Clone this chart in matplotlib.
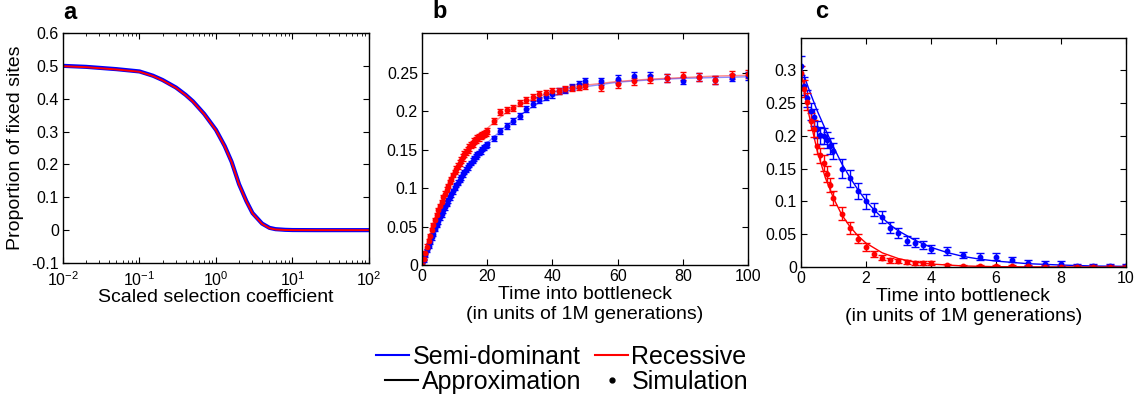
import math
import matplotlib
matplotlib.use('Agg')
import matplotlib.pyplot as plt
from matplotlib.lines import Line2D
from matplotlib.ticker import FixedLocator, FuncFormatter, LogLocator, NullFormatter

plt.rcParams['font.family'] = ['Liberation Sans', 'DejaVu Sans']
plt.rcParams['mathtext.fontset'] = 'custom'
plt.rcParams['mathtext.rm'] = 'Liberation Sans'
plt.rcParams['mathtext.it'] = 'Liberation Sans:italic'
plt.rcParams['mathtext.bf'] = 'Liberation Sans:bold'

BLUE = '#0000ff'
RED = '#ff0000'

# ---------------- Panel a ----------------
a_s = [0.01, 0.02, 0.05, 0.1, 0.15, 0.2, 0.3, 0.4, 0.5, 0.7, 1.0, 1.3, 1.6, 2.0,
       2.5, 3.0, 4.0, 5.0, 6.0, 8.0, 10, 20, 50, 100]
a_semi = [0.500, 0.497, 0.490, 0.483, 0.470, 0.457, 0.434, 0.412, 0.392, 0.354,
          0.305, 0.256, 0.208, 0.140, 0.088, 0.052, 0.020, 0.007, 0.003, 0.001,
          0.0003, 0.0, 0.0, 0.0]
a_rec = [0.499, 0.496, 0.489, 0.482, 0.469, 0.456, 0.433, 0.411, 0.391, 0.353,
         0.304, 0.255, 0.207, 0.139, 0.087, 0.051, 0.019, 0.006, 0.002, 0.0005,
         0.0001, 0.0, 0.0, 0.0]

# ---------------- Panel b ----------------
b_t = [0, 0.5, 1, 1.5, 2, 2.5, 3, 3.5, 4, 4.5, 5, 5.5, 6, 6.5, 7, 7.5, 8, 8.5, 9, 9.5,
       10, 10.5, 11, 11.5, 12, 12.5, 13, 13.5, 14, 14.5, 15, 15.5, 16, 16.5, 17, 17.5,
       18, 18.5, 19, 19.5, 20,
       22, 24, 26, 28, 30, 32, 34, 36, 38, 40, 42, 44, 46, 48, 50,
       55, 60, 65, 70, 75, 80, 85, 90, 95, 100]
b_semi = [0.000, 0.006, 0.013, 0.019, 0.025, 0.030, 0.036, 0.041, 0.047, 0.052,
          0.057, 0.062, 0.066, 0.071, 0.075, 0.080, 0.084, 0.088, 0.092, 0.096,
          0.100, 0.104, 0.107, 0.111, 0.114, 0.118, 0.121, 0.124, 0.127, 0.130,
          0.133, 0.136, 0.139, 0.141, 0.144, 0.146, 0.148, 0.151, 0.153, 0.155,
          0.157,
          0.165, 0.174, 0.181, 0.188, 0.194, 0.203, 0.210, 0.215, 0.219, 0.222,
          0.226, 0.228, 0.232, 0.235, 0.239,
          0.239, 0.242, 0.246, 0.246, 0.243, 0.240, 0.245, 0.241, 0.244, 0.246]
b_rec = [0.000, 0.008, 0.016, 0.024, 0.031, 0.038, 0.045, 0.052, 0.058, 0.065,
         0.071, 0.077, 0.082, 0.088, 0.093, 0.098, 0.103, 0.108, 0.112, 0.117,
         0.121, 0.125, 0.129, 0.133, 0.137, 0.140, 0.144, 0.147, 0.150, 0.153,
         0.156, 0.158, 0.161, 0.163, 0.165, 0.166, 0.168, 0.169, 0.171, 0.172,
         0.174,
         0.187, 0.199, 0.202, 0.204, 0.211, 0.215, 0.219, 0.222, 0.224, 0.226,
         0.227, 0.229, 0.230, 0.232, 0.233,
         0.232, 0.236, 0.239, 0.242, 0.243, 0.246, 0.245, 0.241, 0.247, 0.249]
b_semi_err = [0.002, 0.002, 0.002, 0.002, 0.003, 0.003, 0.003, 0.003, 0.003, 0.003,
              0.003, 0.003, 0.003, 0.003, 0.003, 0.003, 0.003, 0.003, 0.003, 0.003,
              0.003, 0.003, 0.003, 0.003, 0.003, 0.003, 0.003, 0.003, 0.003, 0.003,
              0.003, 0.003, 0.003, 0.003, 0.003, 0.003, 0.003, 0.003, 0.003, 0.003,
              0.003,
              0.003, 0.004, 0.004, 0.004, 0.004, 0.004, 0.004, 0.004, 0.004, 0.004,
              0.004, 0.004, 0.004, 0.004, 0.004,
              0.005, 0.005, 0.005, 0.005, 0.005, 0.005, 0.005, 0.005, 0.005, 0.005]
b_rec_err = [0.002, 0.002, 0.002, 0.003, 0.003, 0.003, 0.003, 0.003, 0.003, 0.003,
             0.003, 0.003, 0.003, 0.003, 0.003, 0.003, 0.003, 0.003, 0.003, 0.003,
             0.003, 0.004, 0.004, 0.004, 0.004, 0.004, 0.004, 0.004, 0.004, 0.004,
             0.004, 0.004, 0.004, 0.004, 0.004, 0.004, 0.004, 0.004, 0.004, 0.004,
             0.004,
             0.004, 0.004, 0.004, 0.004, 0.004, 0.004, 0.004, 0.004, 0.004, 0.004,
             0.004, 0.004, 0.004, 0.004, 0.004,
             0.005, 0.005, 0.005, 0.005, 0.005, 0.005, 0.005, 0.005, 0.005, 0.005]
b_line_t = [0, 2, 4, 6, 8, 10, 12, 14, 16, 18, 20, 25, 30, 35, 40, 45, 50, 60, 70, 80, 90, 100]
b_semi_line = [0.0, 0.024, 0.046, 0.066, 0.085, 0.101, 0.116, 0.129, 0.140, 0.150,
               0.159, 0.178, 0.195, 0.209, 0.219, 0.227, 0.232, 0.238, 0.241, 0.243,
               0.244, 0.245]
b_rec_line = [0.0, 0.031, 0.058, 0.082, 0.103, 0.121, 0.137, 0.150, 0.161, 0.170,
              0.178, 0.196, 0.209, 0.218, 0.225, 0.230, 0.234, 0.239, 0.242, 0.244,
              0.246, 0.247]

# ---------------- Panel c ----------------
c_t = [0, 0.1, 0.2, 0.3, 0.4, 0.5, 0.6, 0.7, 0.8, 0.9, 1.0,
       1.25, 1.5, 1.75, 2.0, 2.25, 2.5, 2.75, 3.0, 3.25, 3.5, 3.75, 4.0,
       4.5, 5.0, 5.5, 6.0, 6.5, 7.0, 7.5, 8.0, 8.5, 9.0, 9.5, 10.0]
c_semi = [0.307, 0.276, 0.257, 0.237, 0.228, 0.210, 0.201, 0.200, 0.194, 0.184, 0.177,
          0.150, 0.135, 0.116, 0.100, 0.087, 0.076, 0.060, 0.052, 0.040, 0.037, 0.034, 0.027,
          0.024, 0.018, 0.016, 0.016, 0.011, 0.006, 0.005, 0.005, 0.002, 0.002, 0.002, 0.002]
c_rec = [0.295, 0.272, 0.252, 0.222, 0.211, 0.185, 0.170, 0.159, 0.142, 0.125, 0.105,
         0.081, 0.060, 0.043, 0.030, 0.020, 0.014, 0.010, 0.0085, 0.0076, 0.006, 0.006, 0.006,
         0.0025, 0.0015, 0.001, 0.001, 0.0008, 0.0008, 0.0005, 0.0005, 0.0005, 0.0005, 0.0005, 0.0005]
c_semi_err = [0.014, 0.014, 0.013, 0.013, 0.013, 0.013, 0.013, 0.012, 0.012, 0.012, 0.012,
              0.014, 0.013, 0.012, 0.011, 0.010, 0.009, 0.008, 0.008, 0.007, 0.007, 0.006, 0.006,
              0.006, 0.005, 0.005, 0.005, 0.004, 0.004, 0.004, 0.004, 0.003, 0.003, 0.003, 0.003]
c_rec_err = [0.012, 0.013, 0.013, 0.013, 0.013, 0.013, 0.012, 0.012, 0.012, 0.011, 0.011,
             0.010, 0.009, 0.007, 0.006, 0.005, 0.004, 0.004, 0.003, 0.003, 0.003, 0.003, 0.003,
             0.002, 0.002, 0.002, 0.002, 0.002, 0.002, 0.002, 0.002, 0.002, 0.002, 0.002, 0.002]
c_semi_line_t = [0, 0.25, 0.5, 0.75, 1, 1.25, 1.5, 1.75, 2, 2.25, 2.5, 2.75, 3, 3.5, 4,
                 4.5, 5, 5.5, 6, 7, 8, 9, 10]
c_semi_line = [0.305, 0.270, 0.238, 0.210, 0.183, 0.158, 0.137, 0.118, 0.101, 0.087,
               0.075, 0.064, 0.055, 0.041, 0.030, 0.022, 0.016, 0.012, 0.009, 0.005,
               0.003, 0.0015, 0.001]
c_rec_line_t = [0, 0.25, 0.5, 0.75, 1, 1.25, 1.5, 1.75, 2, 2.5, 3, 3.5, 4, 5, 6, 7, 8, 9, 10]
c_rec_line = [0.300, 0.231, 0.177, 0.136, 0.105, 0.080, 0.062, 0.0476, 0.0365, 0.0216,
              0.0128, 0.0075, 0.0045, 0.0016, 0.0005, 0.0002, 0.0001, 0.0, 0.0]

TICK_FS = 11.5
LABEL_FS = 14

fig = plt.figure(figsize=(11.41, 4.0), dpi=100)
axa = fig.add_axes([0.0552, 0.3425, 0.2682, 0.575])
axb = fig.add_axes([0.3699, 0.3375, 0.2857, 0.58])
axc = fig.add_axes([0.7020, 0.3325, 0.2848, 0.5725])


def style(ax, xpad=3):
    for sp in ax.spines.values():
        sp.set_linewidth(1.0)
    ax.tick_params(direction='in', top=True, right=True, labelsize=TICK_FS,
                   length=4, width=0.8, pad=3)
    ax.tick_params(axis='x', pad=xpad)
    ax.tick_params(which='minor', direction='in', top=True, right=True,
                   length=2.5, width=0.6)


def num_fmt(v, pos):
    s = ('%.2f' % v).rstrip('0').rstrip('.')
    if s == '-0':
        s = '0'
    return s


def log_fmt(v, pos):
    return r'$\mathregular{10^{%d}}$' % round(math.log10(v))


# Panel a
axa.plot(a_s, a_semi, color=BLUE, lw=3.0, solid_capstyle='butt')
axa.plot(a_s, a_rec, color=RED, lw=1.4)
axa.set_xscale('log')
axa.set_xlim(0.01, 100)
axa.set_ylim(-0.1, 0.6)
axa.xaxis.set_major_locator(LogLocator(base=10, numticks=10))
axa.xaxis.set_minor_locator(LogLocator(base=10, subs=[2, 3, 4, 5, 6, 7, 8, 9], numticks=20))
axa.xaxis.set_minor_formatter(NullFormatter())
axa.xaxis.set_major_formatter(FuncFormatter(log_fmt))
axa.yaxis.set_major_locator(FixedLocator([-0.1, 0, 0.1, 0.2, 0.3, 0.4, 0.5, 0.6]))
axa.yaxis.set_major_formatter(FuncFormatter(num_fmt))
style(axa, xpad=5)
axa.set_xlabel('Scaled selection coefficient', fontsize=LABEL_FS, labelpad=0)
axa.set_ylabel('Proportion of fixed sites', fontsize=LABEL_FS, labelpad=5)

# Panel b
axb.plot(b_line_t, b_semi_line, color=BLUE, lw=1.0, alpha=0.45)
axb.plot(b_line_t, b_rec_line, color=RED, lw=1.0, alpha=0.45)
axb.errorbar(b_t, b_semi, yerr=b_semi_err, fmt='o', ms=3.2, color=BLUE,
             ecolor=BLUE, elinewidth=1.0, capsize=2.5, capthick=1.0)
axb.errorbar(b_t, b_rec, yerr=b_rec_err, fmt='o', ms=3.2, color=RED,
             ecolor=RED, elinewidth=1.0, capsize=2.5, capthick=1.0)
axb.set_xlim(0, 100)
axb.set_ylim(0, 0.302)
axb.xaxis.set_major_locator(FixedLocator([0, 20, 40, 60, 80, 100]))
axb.yaxis.set_major_locator(FixedLocator([0, 0.05, 0.1, 0.15, 0.2, 0.25]))
axb.yaxis.set_major_formatter(FuncFormatter(num_fmt))
style(axb)
axb.set_xlabel('Time into bottleneck\n(in units of 1M generations)',
               fontsize=LABEL_FS, labelpad=1, linespacing=1.25)

# Panel c
axc.plot(c_semi_line_t, c_semi_line, color=BLUE, lw=1.0)
axc.plot(c_rec_line_t, c_rec_line, color=RED, lw=1.0)
axc.errorbar(c_t, c_semi, yerr=c_semi_err, fmt='o', ms=3.2, color=BLUE,
             ecolor=BLUE, elinewidth=1.0, capsize=3, capthick=1.0)
axc.errorbar(c_t, c_rec, yerr=c_rec_err, fmt='o', ms=3.2, color=RED,
             ecolor=RED, elinewidth=1.0, capsize=3, capthick=1.0)
axc.set_xlim(0, 10)
axc.set_ylim(0, 0.349)
axc.xaxis.set_major_locator(FixedLocator([0, 2, 4, 6, 8, 10]))
axc.yaxis.set_major_locator(FixedLocator([0, 0.05, 0.1, 0.15, 0.2, 0.25, 0.3]))
axc.yaxis.set_major_formatter(FuncFormatter(num_fmt))
style(axc)
axc.set_xlabel('Time into bottleneck\n(in units of 1M generations)',
               fontsize=LABEL_FS, labelpad=1, linespacing=1.25)

# Panel labels
fig.text(0.0552, 0.9525, 'a', fontsize=17, fontweight='bold', va='baseline', ha='left')
fig.text(0.3786, 0.955, 'b', fontsize=17, fontweight='bold', va='baseline', ha='left')
fig.text(0.7143, 0.955, 'c', fontsize=17, fontweight='bold', va='baseline', ha='left')

# Legends (two rows)
row1 = [Line2D([], [], color=BLUE, lw=1.5), Line2D([], [], color=RED, lw=1.5)]
row2 = [Line2D([], [], color='black', lw=1.5),
        Line2D([], [], color='black', lw=0, marker='o', ms=3.5)]
leg1 = fig.legend(row1, ['Semi-dominant', 'Recessive'], ncol=2, frameon=False,
                  loc='center', bbox_to_anchor=(0.492, 0.108), fontsize=18,
                  handlelength=1.3, handletextpad=0.15, columnspacing=0.6,
                  borderpad=0, borderaxespad=0)
leg2 = fig.legend(row2, ['Approximation', 'Simulation'], ncol=2, frameon=False,
                  loc='center', bbox_to_anchor=(0.497, 0.045), fontsize=18,
                  handlelength=1.3, handletextpad=0.15, columnspacing=0.6,
                  borderpad=0, borderaxespad=0)

fig.savefig('out.png', dpi=100)
